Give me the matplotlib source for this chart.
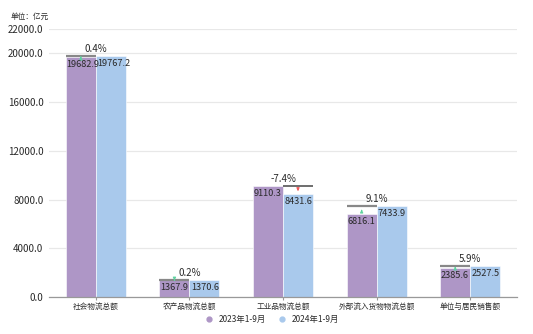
import matplotlib.pyplot as plt
from matplotlib.lines import Line2D
import numpy as np

plt.rcParams['font.family'] = ['Noto Sans CJK SC', 'DejaVu Sans']

# datos
categorias = ["社会物流总额", "农产品物流总额", "工业品物流总额", "外部流入货物物流总额", "单位与居民销售额"]
valores_2023 = [19682.9, 1367.9, 9110.3, 6816.1, 2385.6]
valores_2024 = [19767.2, 1370.6, 8431.6, 7433.9, 2527.5]
series = ["2023年1-9月", "2024年1-9月"]
yticks = [0, 4000, 8000, 12000, 16000, 20000, 22000]

COLOR_23 = "#AE96C6"
COLOR_24 = "#A9C9EC"
TXT = "#2a2a2a"

fig = plt.figure(figsize=(5.33, 3.34), dpi=100)
ax = fig.add_axes([0.092, 0.111, 0.878, 0.802])

x = np.arange(len(categorias))
w = 0.32

ax.bar(x - w / 2, valores_2023, w, color=COLOR_23, edgecolor="white", linewidth=0.4, zorder=2)
ax.bar(x + w / 2, valores_2024, w, color=COLOR_24, edgecolor="white", linewidth=0.4, zorder=2)

# etiquetas de valor dentro de la barra
for xi, v in zip(x - w / 2, valores_2023):
    ax.text(xi - w / 2 + 0.005, v - 250, f"{v:.1f}", ha="left", va="top", fontsize=6.6, color=TXT, zorder=4)
for xi, v in zip(x + w / 2, valores_2024):
    ax.text(xi - w / 2 + 0.015, v - 250, f"{v:.1f}", ha="left", va="top", fontsize=6.6, color=TXT, zorder=4)

# variación interanual
for i, (a, b) in enumerate(zip(valores_2023, valores_2024)):
    pct = (b - a) / a * 100
    top = max(a, b)
    if b >= a:
        xc = x[i] - w / 2
        ax.plot([xc - w / 2, xc + w / 2], [top, top], color="#888888", lw=1.6, zorder=3, solid_capstyle="butt")
        ax.annotate("", xy=(xc, top - 30), xytext=(xc, a),
                    arrowprops=dict(arrowstyle="-|>", color="#5FD3A0", lw=0.8, mutation_scale=4), zorder=3)
    else:
        xc = x[i] + w / 2
        ax.plot([xc - w / 2, xc + w / 2], [top, top], color="#555555", lw=1.2, zorder=3, solid_capstyle="butt")
        ax.annotate("", xy=(xc, b + 30), xytext=(xc, top),
                    arrowprops=dict(arrowstyle="-|>", color="#F05A5A", lw=0.8, mutation_scale=4), zorder=3)
    ax.text(x[i], top + 200, f"{pct:.1f}%", ha="center", va="bottom", fontsize=7, color=TXT, zorder=4)

ax.set_xlim(-0.5, len(categorias) - 0.5)
ax.set_ylim(0, 22000)
ax.set_yticks(yticks)
ax.set_yticklabels([f"{t:.1f}" for t in yticks], fontsize=7, color=TXT)
ax.set_xticks(x)
ax.set_xticklabels(categorias, fontsize=5.5, color=TXT, fontweight="medium")
ax.tick_params(axis="y", length=0, pad=4)
ax.tick_params(axis="x", length=2, color="#999999", pad=2)

ax.grid(axis="y", color="#E8E8E8", lw=0.9, zorder=0)
ax.set_axisbelow(True)
for s in ["top", "right", "left"]:
    ax.spines[s].set_visible(False)
ax.spines["bottom"].set_color("#999999")
ax.spines["bottom"].set_linewidth(0.9)

fig.text(0.019, 0.948, "单位：亿元", fontsize=5.5, color=TXT, ha="left", va="center", fontweight="medium")

# leyenda
handles = [Line2D([], [], marker="o", ls="", color=COLOR_23, markersize=3.5),
           Line2D([], [], marker="o", ls="", color=COLOR_24, markersize=3.5)]
fig.legend(handles, series, loc="center", bbox_to_anchor=(0.506, 0.045), ncol=2, frameon=False,
           fontsize=6, handletextpad=0.1, columnspacing=1.0, labelcolor=TXT)

fig.savefig("out.png", dpi=100, facecolor="white")
